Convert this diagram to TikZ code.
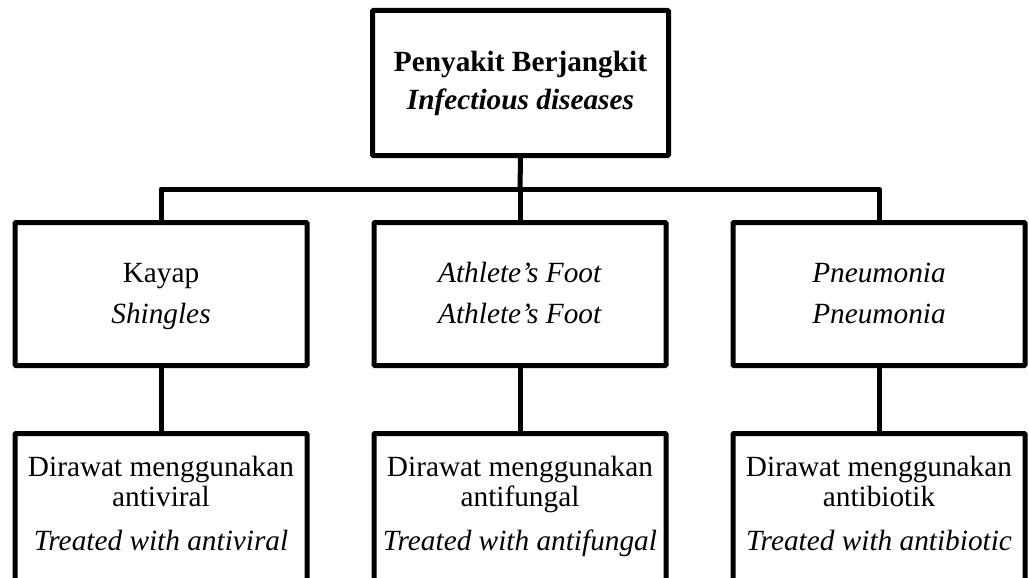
\documentclass[tikz,border=0pt]{standalone}
\usepackage{fontspec}
\setmainfont{Liberation Serif}
\begin{document}
\begin{tikzpicture}[x=1pt,y=-1pt,
  box/.style={draw=black,line width=5pt,rounded corners=1pt,inner sep=0pt},
  label/.style={align=center,anchor=base,inner sep=0pt,font=\fontsize{29.3}{30}\selectfont},
  wire/.style={draw=black,line width=5pt}]
\useasboundingbox (0,0) rectangle (1029,578);

% boxes
\node[box,minimum width=296pt,minimum height=145pt] (top) at (520.5,83) {};
\node[box,minimum width=292pt,minimum height=143pt] (kayap) at (161,294) {};
\node[box,minimum width=292pt,minimum height=143pt] (foot) at (520,294) {};
\node[box,minimum width=292pt,minimum height=143pt] (pneu) at (879,294) {};
\node[box,minimum width=292pt,minimum height=200pt] (viral) at (161,533.5) {};
\node[box,minimum width=292pt,minimum height=200pt] (fungal) at (520,533.5) {};
\node[box,minimum width=292pt,minimum height=200pt] (biotic) at (879,533.5) {};

% texts (anchored at the baseline of their last line)
\node[label] (ttop) at (520.5,110) {\textbf{Penyakit Berjangkit}\\[8pt]\textbf{\textit{Infectious diseases}}};
\node[label] (tkayap) at (161,323) {Kayap\\[11pt]\textit{Shingles}};
\node[label] (tfoot) at (520,323) {\textit{Athlete’s Foot}\\[11pt]\textit{Athlete’s Foot}};
\node[label] (tpneu) at (879,323) {\textit{Pneumonia}\\[11pt]\textit{Pneumonia}};
\node[label] (tviral) at (161,550) {Dirawat menggunakan\\antiviral\\[14pt]\textit{Treated with antiviral}};
\node[label] (tfungal) at (520,550) {Dirawat menggunakan\\antifungal\\[14pt]\textit{Treated with antifungal}};
\node[label] (tbiotic) at (879,550) {Dirawat menggunakan\\antibiotik\\[14pt]\textit{Treated with antibiotic}};

% connectors
\coordinate (bus) at (520,189);
\draw[wire] (top.south) -- (bus);
\draw[wire,line join=round] (kayap.north) |- (bus) -| (pneu.north);
\draw[wire] (bus) -- (foot.north);
\draw[wire] (kayap.south) -- (viral.north);
\draw[wire] (foot.south) -- (fungal.north);
\draw[wire] (pneu.south) -- (biotic.north);
\end{tikzpicture}
\end{document}
